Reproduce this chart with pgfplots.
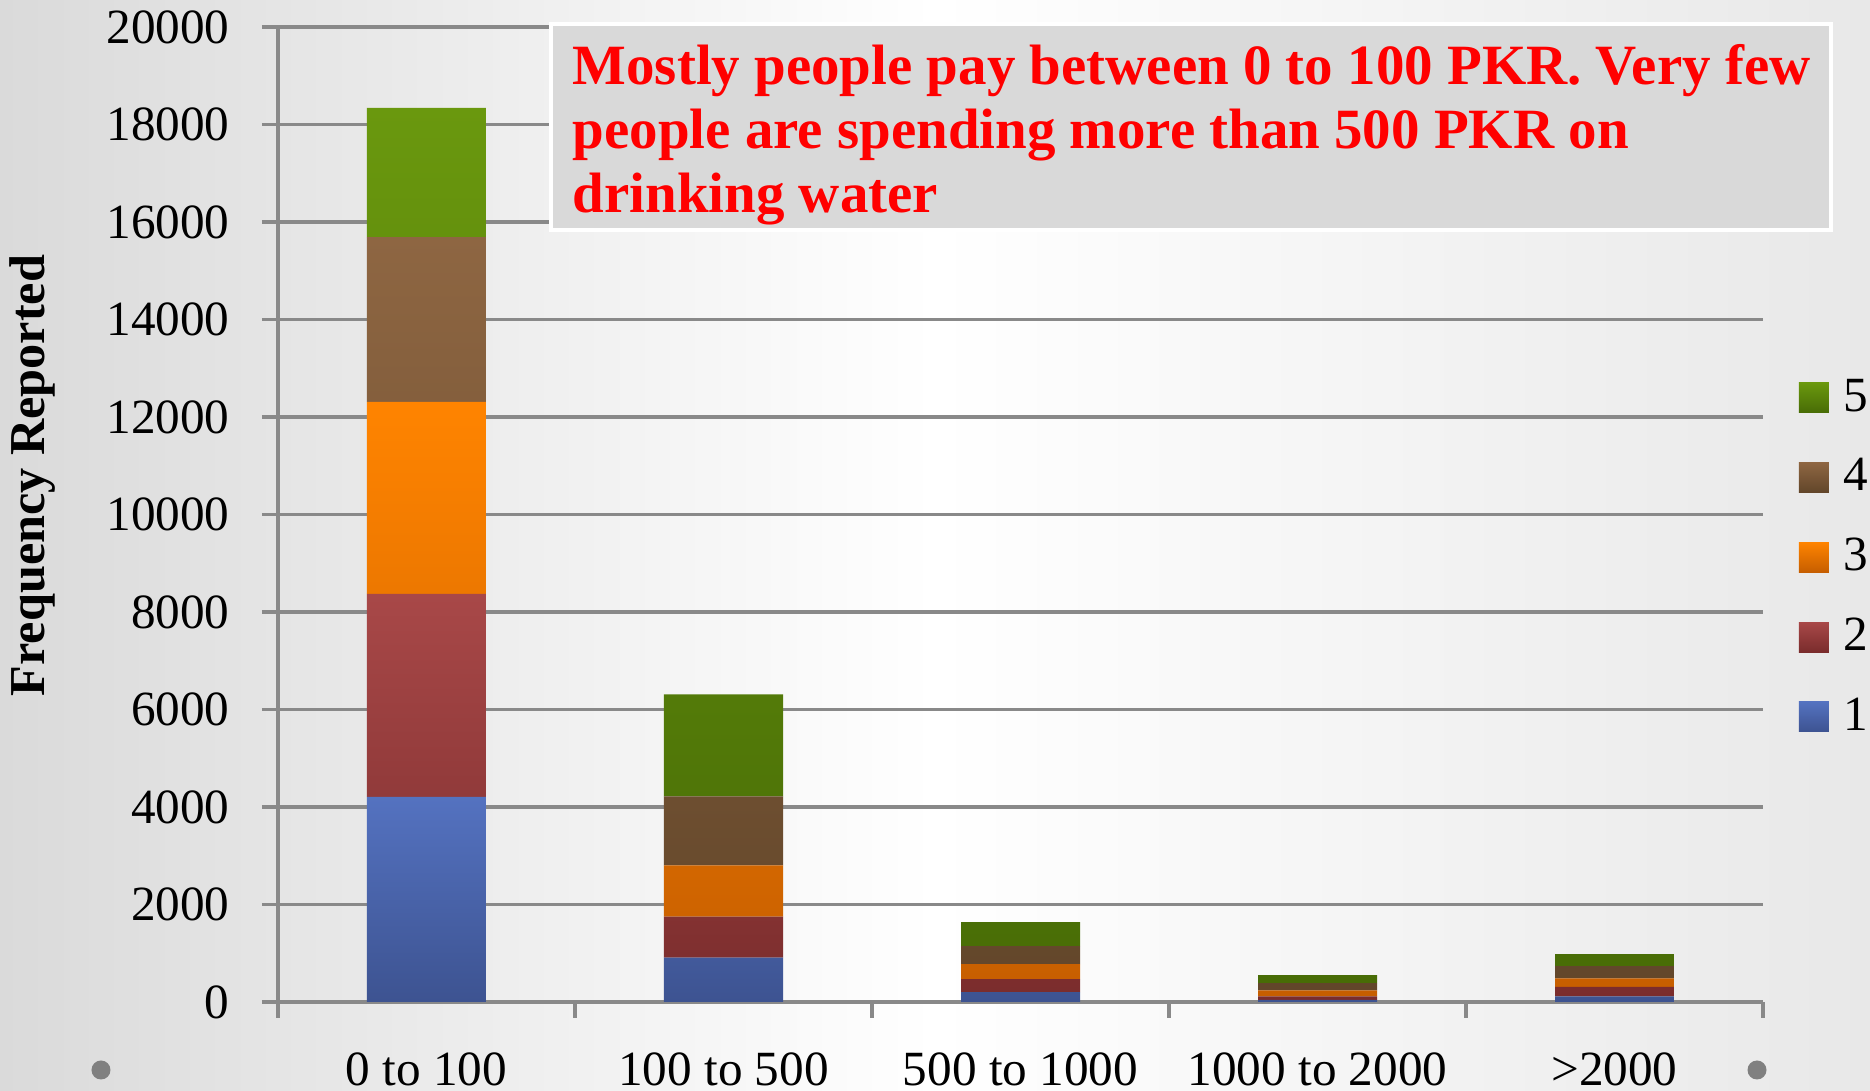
\documentclass[border=0pt]{standalone}
\usepackage{pgfplots}
\pgfplotsset{compat=1.18}
\usepackage{fontspec}
\setmainfont{Liberation Serif}

\definecolor{bluetop}{RGB}{84,114,192}
\definecolor{bluebot}{RGB}{61,83,145}
\definecolor{redtop}{RGB}{168,72,72}
\definecolor{redbot}{RGB}{122,44,44}
\definecolor{orgtop}{RGB}{255,132,0}
\definecolor{orgbot}{RGB}{198,94,0}
\definecolor{brntop}{RGB}{142,102,66}
\definecolor{brnbot}{RGB}{98,70,42}
\definecolor{grntop}{RGB}{106,152,14}
\definecolor{grnbot}{RGB}{72,108,6}
\definecolor{axgray}{RGB}{137,137,137}
\definecolor{boxgray}{RGB}{217,217,217}
\definecolor{bgleft}{RGB}{218,218,218}
\definecolor{bgright}{RGB}{232,232,232}

% amount paid (PKR) vs frequency, stacked by series 1..5
\pgfplotstableread{
x s1 s2 s3 s4 s5
0 4210 4160 3940 3380 2650
1 910 843 1047 1420 2090
2 200 267 308 370 493
3 41 76 123 145 164
4 117 191 179 247 246
}\freq

\begin{document}
\begin{tikzpicture}
\shade[left color=bgleft, right color=bgright, middle color=white] (-2.78,-0.89) rectangle (15.92,10.02);
\useasboundingbox (-2.78,-0.89) rectangle (15.92,10.02);
\begin{axis}[
    at={(0,0)}, anchor=south west,
    scale only axis, width=14.85cm, height=9.75cm,
    ybar stacked, bar width=1.19cm,
    xmin=-0.5, xmax=4.5, ymin=0, ymax=20000,
    ytick={0,2000,...,20000},
    scaled y ticks=false,
    /pgf/number format/1000 sep={},
    /pgf/number format/assume math mode=true,
    axis x line*=bottom, axis y line*=left,
    axis line style={axgray, line width=1pt},
    ymajorgrids, grid style={axgray, line width=0.9pt},
    tick align=outside, major tick length=0.16cm,
    tick style={axgray, line width=1pt},
    xtick={0,...,4},
    xticklabels={0 to 100, 100 to 500, 500 to 1000, 1000 to 2000, >2000},
    x tick style={draw=none},
    extra x ticks={-0.5,0.5,1.5,2.5,3.5,4.5},
    extra x tick labels={},
    extra x tick style={x tick style={draw=axgray, line width=1pt}, grid=none},
    ticklabel style={font=\fontsize{14}{16}\selectfont},
    xticklabel style={anchor=base, yshift=-0.67cm},
    yticklabel style={xshift=-0.2cm},
    ylabel={Frequency Reported},
    ylabel style={font=\bfseries\fontsize{14.3}{16}\selectfont, at={(axis description cs:-0.165,0.54)}, anchor=center},
    reverse legend,
    legend style={draw=none, fill=none, at={(rel axis cs:1.0236,0.456)}, anchor=west,
        font=\fontsize{14}{15}\selectfont, row sep=0.28cm, inner sep=0pt},
    legend image code/.code={\path[#1, draw=none] (0cm,-0.15cm) rectangle (0.3cm,0.15cm); \path (0.38cm,0cm);},
]
\addplot[draw=none, top color=bluetop, bottom color=bluebot] table[x=x, y=s1] {\freq};
\addlegendentry{1}
\addplot[draw=none, top color=redtop, bottom color=redbot] table[x=x, y=s2] {\freq};
\addlegendentry{2}
\addplot[draw=none, top color=orgtop, bottom color=orgbot] table[x=x, y=s3] {\freq};
\addlegendentry{3}
\addplot[draw=none, top color=brntop, bottom color=brnbot] table[x=x, y=s4] {\freq};
\addlegendentry{4}
\addplot[draw=none, top color=grntop, bottom color=grnbot] table[x=x, y=s5] {\freq};
\addlegendentry{5}
\end{axis}
% annotation box
\draw[draw=white, line width=1pt, fill=boxgray] (2.73,7.72) rectangle (15.53,9.78);
\node[anchor=north west, align=left, text=red, inner sep=0pt,
      font=\bfseries\fontsize{16.2}{18.2}\selectfont] at (2.94,9.58)
    {Mostly people pay between 0 to 100 PKR. Very few\\people are spending more than 500 PKR on\\drinking water};
% slide bullets
\fill[black!50] (-1.77,-0.68) circle (0.095);
\fill[black!50] (14.79,-0.68) circle (0.095);
\end{tikzpicture}
\end{document}
